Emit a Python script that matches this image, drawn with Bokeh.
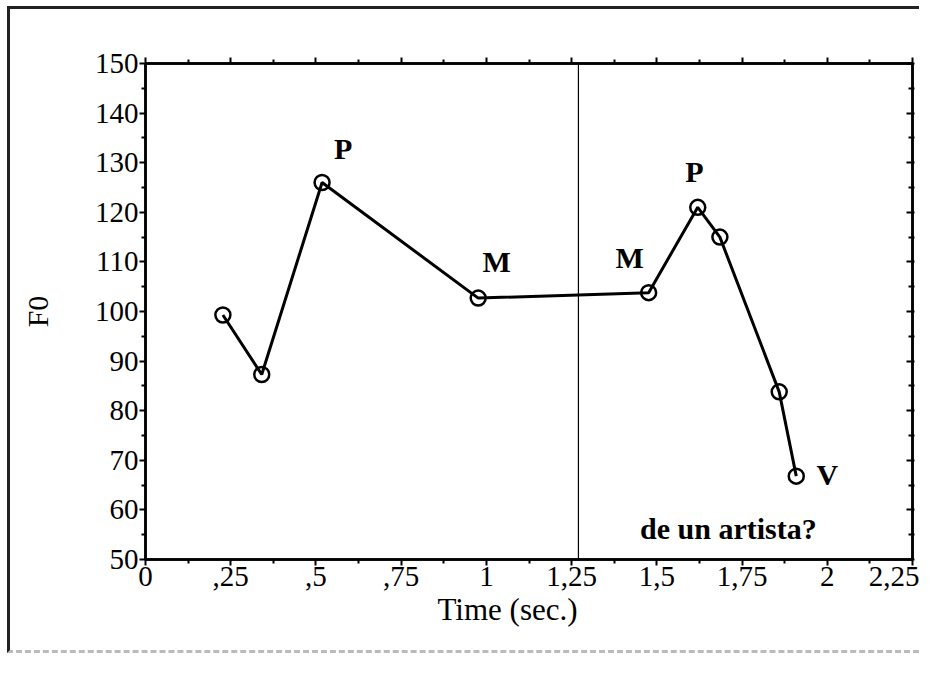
from bokeh.plotting import figure
from bokeh.models import FixedTicker, LinearAxis, Range1d, Span, ColumnDataSource, Title
from bokeh.core.properties import value
from bokeh.embed import file_html
from bokeh.resources import INLINE

# data
time_s = [0.227, 0.341, 0.518, 0.976, 1.476, 1.62, 1.685, 1.859, 1.909]
f0 = [99.3, 87.3, 126.0, 102.7, 103.8, 121.0, 115.0, 83.8, 66.8]

label_text = ["P", "M", "M", "P", "V", "de un artista?"]
label_x = [0.58, 1.03, 1.42, 1.61, 2.0, 1.71]
label_y = [132.8, 110.0, 110.9, 128.3, 67.2, 56.3]

boundary_t = 1.27

x_ticks = [0, 0.25, 0.5, 0.75, 1, 1.25, 1.5, 1.75, 2, 2.25]
x_tick_labels = ["0", ",25", ",5", ",75", "1", "1,25", "1,5", "1,75", "2", "2,25"]
x_minor = [0.125 + 0.25 * i for i in range(9)]
y_ticks = list(range(50, 151, 10))
y_minor = list(range(55, 150, 10))

x_title = "Time (sec.)"
y_title = "F0"

FONT = "Liberation Serif"

p = figure(width=912, height=647, output_backend="svg", toolbar_location=None,
           x_range=Range1d(0, 2.25), y_range=Range1d(50, 150),
           min_border_left=135, min_border_top=54, min_border_right=10,
           min_border_bottom=97, x_axis_location=None, y_axis_location=None)
p.styles = {"border-top": "3px solid #222", "border-left": "3px solid #222",
            "border-bottom": "3px dashed #bbb", "margin-left": "7px", "margin-top": "6px"}
p.grid.visible = False
p.outline_line_color = "black"
p.outline_line_width = 2.5
p.background_fill_color = "white"
p.border_fill_color = "white"

bottom = LinearAxis(ticker=FixedTicker(ticks=x_ticks, minor_ticks=x_minor))
bottom.major_label_overrides = {t: l for t, l in zip(x_ticks, x_tick_labels)}
left = LinearAxis(ticker=FixedTicker(ticks=y_ticks, minor_ticks=y_minor), axis_label=y_title)
top = LinearAxis(ticker=FixedTicker(ticks=x_ticks, minor_ticks=x_minor), major_label_text_font_size="0px")
right = LinearAxis(ticker=FixedTicker(ticks=y_ticks, minor_ticks=y_minor), major_label_text_font_size="0px")

for ax in (bottom, left, top, right):
    ax.axis_line_width = 2.5
    ax.axis_line_color = "black"
    ax.major_tick_line_width = 2
    ax.minor_tick_line_width = 2
    ax.major_tick_line_color = "black"
    ax.minor_tick_line_color = "black"
    ax.major_label_text_font = FONT
    ax.axis_label_text_font = FONT
    ax.axis_label_text_font_style = "normal"
    ax.major_label_text_color = "black"
    ax.axis_label_text_color = "black"

for ax in (bottom, left):
    ax.major_label_text_font_size = "29px"
    ax.axis_label_text_font_size = "30px"
    ax.major_tick_out = 6
    ax.major_tick_in = 0
    ax.minor_tick_out = 4
    ax.minor_tick_in = 0
    ax.major_label_standoff = 1

left.axis_label_standoff = 38

top.major_tick_out = 6
top.major_tick_in = 0
top.minor_tick_out = 4
top.minor_tick_in = 0
right.major_tick_out = 2
right.major_tick_in = 6
right.minor_tick_out = 2
right.minor_tick_in = 4

p.add_layout(bottom, "below")
p.add_layout(left, "left")
p.add_layout(top, "above")
p.add_layout(right, "right")

p.add_layout(Title(text=x_title, align="left", offset=292, text_font=FONT,
                   text_font_size="31px", text_font_style="normal", text_color="black",
                   standoff=2), "below")

p.add_layout(Span(location=boundary_t, dimension="height", line_color="black", line_width=1.2))

src = ColumnDataSource(dict(x=time_s, y=f0))
p.line("x", "y", source=src, line_color="black", line_width=3)
p.scatter("x", "y", source=src, size=15, marker="circle", fill_color=None,
          line_color="black", line_width=2.5)

lsrc = ColumnDataSource(dict(x=label_x, y=label_y, t=label_text))
p.text("x", "y", text="t", source=lsrc, text_font=value(FONT), text_font_style="bold",
       text_font_size="30px", text_align="center", text_baseline="middle", text_color="black")

open("out.html", "w").write(file_html(p, INLINE))
